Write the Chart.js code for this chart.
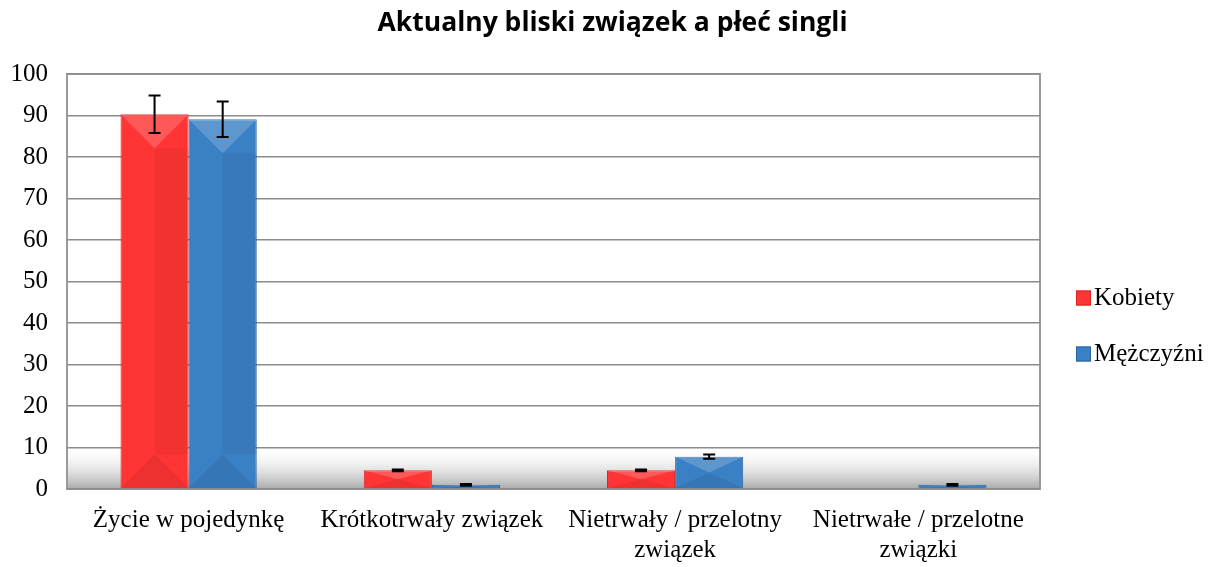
<!DOCTYPE html>
<html>
<head>
<meta charset="utf-8">
<script src="https://cdn.jsdelivr.net/npm/chart.js@4.4.0/dist/chart.umd.min.js"></script>
<style>
  html, body { margin: 0; padding: 0; background: #fff; }
  #wrap { width: 1225px; height: 567px; }
</style>
</head>
<body>
<div id="wrap"><canvas id="chart"></canvas></div>
<script>
const title = 'Aktualny bliski związek a płeć singli';
const categories = [
  'Życie w pojedynkę',
  'Krótkotrwały związek',
  ['Nietrwały / przelotny', 'związek'],
  ['Nietrwałe / przelotne', 'związki']
];
const seriesNames = ['Kobiety', 'Mężczyźni'];
const kobiety = [90.3, 4.5, 4.5, 0];
const mezczyzni = [89.1, 1.0, 7.8, 1.0];
const kobietyErr = [4.5, 0.2, 0.2, 0];
const mezczyzniErr = [4.3, 0.2, 0.5, 0.2];
const yTicks = [0, 10, 20, 30, 40, 50, 60, 70, 80, 90, 100];

const colors = ['#ff3434', '#3a80c4'];
const edges = ['#d92424', '#2a62a0'];
const serif = 'Liberation Serif';

// plot area background with the grey "floor" and frame, plus the title
const plotBackground = {
  id: 'plotBackground',
  beforeDraw(chart) {
    const { ctx, chartArea: a } = chart;
    ctx.save();
    ctx.fillStyle = '#fff';
    ctx.fillRect(a.left, a.top, a.right - a.left, a.bottom - a.top);
    const g = ctx.createLinearGradient(0, a.bottom - 44, 0, a.bottom);
    g.addColorStop(0, 'rgba(255,255,255,0)');
    g.addColorStop(1, 'rgba(165,165,165,0.95)');
    ctx.fillStyle = g;
    ctx.fillRect(a.left, a.bottom - 44, a.right - a.left, 44);
    ctx.strokeStyle = '#9a9a9a';
    ctx.lineWidth = 2;
    ctx.strokeRect(a.left, a.top, a.right - a.left, a.bottom - a.top);

    ctx.fillStyle = '#000';
    ctx.font = 'bold 26.5px "Open Sans"';
    ctx.textAlign = 'center';
    ctx.textBaseline = 'middle';
    ctx.fillText(title, chart.width / 2, 23);
    ctx.restore();
  }
};

// light/dark facets so bars look bevelled
const bevel = {
  id: 'bevel',
  afterDatasetsDraw(chart) {
    const { ctx } = chart;
    ctx.save();
    chart.data.datasets.forEach((ds, i) => {
      chart.getDatasetMeta(i).data.forEach(bar => {
        const w = bar.width, l = bar.x - w / 2, r = bar.x + w / 2;
        const t = Math.min(bar.y, bar.base), b = Math.max(bar.y, bar.base);
        const h = b - t;
        if (h < 2) return;
        const d = Math.min(w / 2, h / 2);
        ctx.fillStyle = 'rgba(255,255,255,0.18)';
        ctx.beginPath();
        ctx.moveTo(l, t); ctx.lineTo(r, t); ctx.lineTo(bar.x, t + d); ctx.closePath();
        ctx.fill();
        ctx.fillStyle = 'rgba(0,0,0,0.07)';
        ctx.beginPath();
        ctx.moveTo(l, b); ctx.lineTo(r, b); ctx.lineTo(bar.x, b - d); ctx.closePath();
        ctx.fill();
        ctx.fillStyle = 'rgba(0,0,0,0.05)';
        ctx.fillRect(bar.x, t + d, w / 2, Math.max(0, h - 2 * d));
      });
    });
    ctx.restore();
  }
};

// error bars drawn through the y scale
const errorBars = {
  id: 'errorBars',
  afterDatasetsDraw(chart) {
    const { ctx } = chart;
    const y = chart.scales.y;
    const errs = [kobietyErr, mezczyzniErr];
    ctx.save();
    ctx.strokeStyle = '#000';
    ctx.lineWidth = 2;
    chart.data.datasets.forEach((ds, i) => {
      const meta = chart.getDatasetMeta(i);
      meta.data.forEach((bar, j) => {
        const v = ds.data[j];
        const e = errs[i][j];
        if (!v) return;
        const top = y.getPixelForValue(v + e);
        const bot = y.getPixelForValue(v - e);
        ctx.beginPath();
        ctx.moveTo(bar.x, top);
        ctx.lineTo(bar.x, bot);
        ctx.moveTo(bar.x - 6, top);
        ctx.lineTo(bar.x + 6, top);
        ctx.moveTo(bar.x - 6, bot);
        ctx.lineTo(bar.x + 6, bot);
        ctx.stroke();
      });
    });
    ctx.restore();
  }
};

// legend on the right, drawn by hand to get the tight box/text gap
const sideLegend = {
  id: 'sideLegend',
  afterDraw(chart) {
    const { ctx, chartArea: a } = chart;
    const x = a.right + 36;
    const mid = (a.top + a.bottom) / 2;
    ctx.save();
    ctx.font = '25px "' + serif + '"';
    ctx.textBaseline = 'middle';
    seriesNames.forEach((name, i) => {
      const cy = mid + 16 + i * 56;
      ctx.fillStyle = colors[i];
      ctx.fillRect(x, cy - 7, 15, 15);
      ctx.strokeStyle = edges[i];
      ctx.lineWidth = 1;
      ctx.strokeRect(x + 0.5, cy - 6.5, 14, 14);
      ctx.fillStyle = '#000';
      ctx.fillText(name, x + 18, cy + 1);
    });
    ctx.restore();
  }
};

new Chart(document.getElementById('chart'), {
  type: 'bar',
  data: {
    labels: categories,
    datasets: [
      {
        label: seriesNames[0],
        data: kobiety,
        backgroundColor: colors[0],
        borderColor: edges[0],
        borderWidth: 1,
        barPercentage: 1,
        categoryPercentage: 0.56
      },
      {
        label: seriesNames[1],
        data: mezczyzni,
        backgroundColor: colors[1],
        borderColor: edges[1],
        borderWidth: 1,
        barPercentage: 1,
        categoryPercentage: 0.56
      }
    ]
  },
  options: {
    responsive: true,
    maintainAspectRatio: false,
    animation: false,
    layout: { padding: { left: 0, right: 185, top: 74, bottom: 0 } },
    plugins: {
      legend: { display: false },
      tooltip: { enabled: false }
    },
    scales: {
      x: {
        grid: { display: false },
        border: { display: false },
        afterFit(axis) { axis.height = 78; },
        ticks: {
          color: '#000',
          font: { family: serif, size: 25, lineHeight: 1.2 },
          maxRotation: 0,
          autoSkip: false,
          padding: 8
        }
      },
      y: {
        min: 0,
        max: 100,
        afterBuildTicks(axis) { axis.ticks = yTicks.map(v => ({ value: v })); },
        afterFit(axis) { axis.width = 67; },
        grid: { color: '#8c8c8c', lineWidth: 1.5, drawTicks: false },
        border: { display: false },
        ticks: {
          color: '#000',
          font: { family: serif, size: 25 },
          padding: 19
        }
      }
    }
  },
  plugins: [plotBackground, bevel, errorBars, sideLegend]
});
</script>
</body>
</html>
